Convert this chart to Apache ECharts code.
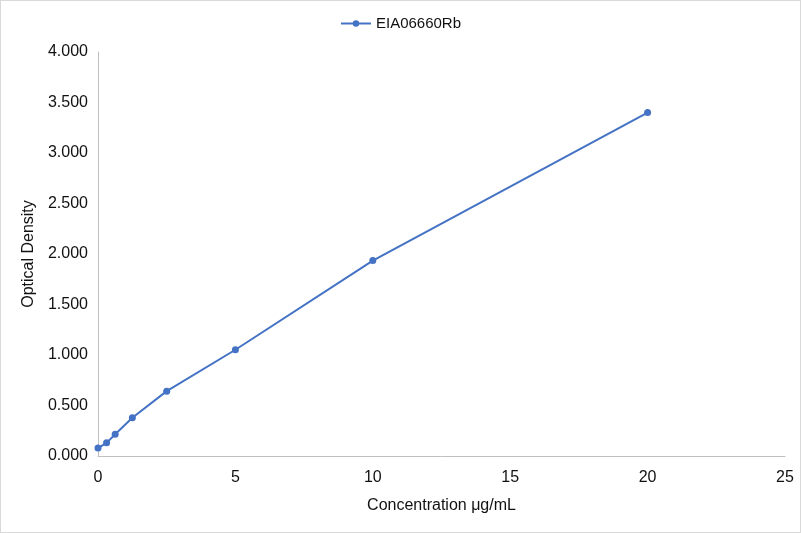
<!DOCTYPE html>
<html><head><meta charset="utf-8">
<script src="https://cdn.jsdelivr.net/npm/echarts@6/dist/echarts.min.js"></script>
<style>html,body{margin:0;padding:0;background:#fff}#c{width:801px;height:533px;box-sizing:border-box;border:1px solid #d9d9d9}</style>
</head><body><div id="c"></div>
<script>
const seriesName = 'EIA06660Rb';
const concentrations = [0, 0.3125, 0.625, 1.25, 2.5, 5, 10, 20];
const densities = [0.079, 0.130, 0.215, 0.378, 0.642, 1.052, 1.935, 3.400];
const chart = echarts.init(document.getElementById('c'));
chart.setOption({
  animation: false,
  textStyle: {fontFamily: 'Liberation Sans, Arial, sans-serif'},
  legend: {top: 10, left: 'center', itemWidth: 30, itemHeight: 8,
    textStyle: {fontSize: 15, color: '#111'}, data: [seriesName]},
  grid: {left: 97, right: 15, top: 51, bottom: 76},
  xAxis: {type: 'value', min: 0, max: 25, interval: 5,
    name: 'Concentration μg/mL', nameLocation: 'middle', nameGap: 42,
    nameTextStyle: {fontSize: 16, color: '#111'},
    axisLine: {lineStyle: {color: '#bfbfbf'}}, axisTick: {show: false},
    axisLabel: {fontSize: 16, color: '#111', margin: 14},
    splitLine: {show: false}},
  yAxis: {type: 'value', min: 0, max: 4, interval: 0.5,
    name: 'Optical Density', nameLocation: 'middle', nameGap: 60,
    nameTextStyle: {fontSize: 16, color: '#111'},
    axisLine: {show: true, lineStyle: {color: '#bfbfbf'}}, axisTick: {show: false},
    axisLabel: {fontSize: 16, color: '#111', margin: 10, formatter: v => v.toFixed(3)},
    splitLine: {show: false}},
  series: [{name: seriesName, type: 'line', symbol: 'circle', symbolSize: 7,
    data: concentrations.map((c, i) => [c, densities[i]]),
    lineStyle: {color: '#4472c4', width: 2}, itemStyle: {color: '#4472c4'}}]
});
</script></body></html>
